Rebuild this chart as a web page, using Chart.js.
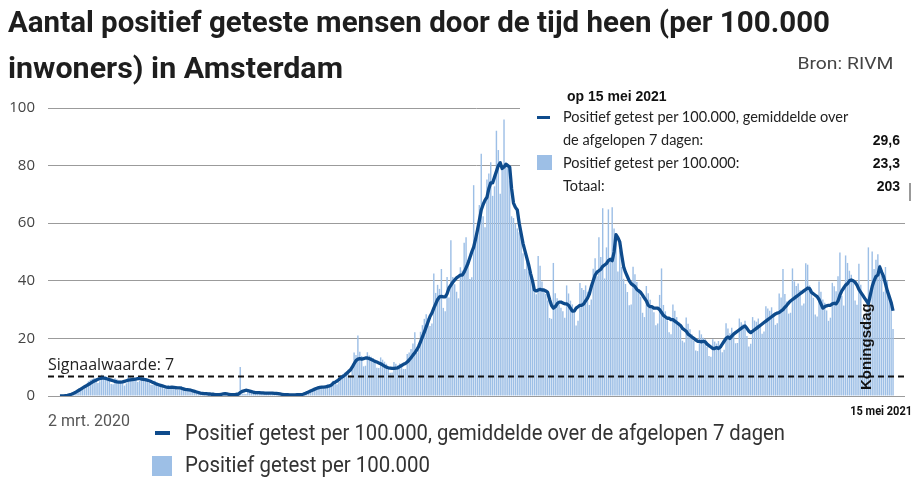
<!DOCTYPE html>
<html lang="nl">
<head>
<meta charset="utf-8">
<script src="https://cdn.jsdelivr.net/npm/chart.js@4.4.1/dist/chart.umd.min.js"></script>
<style>
  body { margin: 0; width: 914px; height: 479px; overflow: hidden; background: #fff; position: relative; }
  #c { position: absolute; left: 0; top: 0; }
  .t { position: absolute; white-space: nowrap; transform-origin: left center; }
  .r { transform-origin: right center; }
  .narrow { font-family: Roboto, "Liberation Sans", sans-serif; }
  .title { left: 8px; font-weight: bold; font-size: 29px; line-height: 30px; color: #1e1e1e; }
  .box { position: absolute; left: 520px; top: 84px; width: 394px; height: 116px; background: #fff; }
  .tip { font-family: Lato, sans-serif; font-size: 14.5px; line-height: 16px; color: #222; }
  .val { font-family: "Liberation Sans", sans-serif; font-weight: bold; font-size: 14px; line-height: 16px; color: #111; right: 14px; }
  .leg { font-size: 22px; line-height: 24px; color: #333; }
</style>
</head>
<body>
<canvas id="c" width="914" height="479"></canvas>

<div class="t narrow title" data-w="822" style="top:7px">Aantal positief geteste mensen door de tijd heen (per 100.000</div>
<div class="t narrow title" data-w="335" style="top:53px">inwoners) in Amsterdam</div>
<div class="t r narrow" data-w="96" style="right:21px;top:54px;font-size:17px;line-height:18px;color:#444">Bron: RIVM</div>

<div class="box"></div>
<div class="t" style="left:567px;top:88px;font-family:'Liberation Sans',sans-serif;font-weight:bold;font-size:14px;line-height:16px;color:#111">op 15 mei 2021</div>
<div class="t" style="left:537px;top:116px;width:13px;height:3px;background:#0e4b8c"></div>
<div class="t tip" style="left:563px;top:109px">Positief getest per 100.000, gemiddelde over</div>
<div class="t tip" style="left:563px;top:132px">de afgelopen 7 dagen:</div>
<div class="t val" style="top:132px">29,6</div>
<div class="t" style="left:537px;top:155px;width:15px;height:15px;background:#9dbfe6"></div>
<div class="t tip" style="left:563px;top:155px">Positief getest per 100.000:</div>
<div class="t val" style="top:155px">23,3</div>
<div class="t tip" style="left:563px;top:178px">Totaal:</div>
<div class="t val" style="top:178px">203</div>
<div class="t" style="left:909px;top:183px;width:2px;height:18px;background:#999"></div>

<div class="t narrow" data-w="82" style="left:48px;top:412px;font-size:16px;line-height:18px;color:#555">2 mrt. 2020</div>
<div class="t r narrow" data-w="62" style="right:2px;top:404px;font-size:12.5px;line-height:14px;font-weight:bold;color:#111">15 mei 2021</div>

<div class="t" style="left:155px;top:431px;width:15px;height:4px;background:#0e4b8c"></div>
<div class="t narrow leg" data-w="600" style="left:185px;top:421px">Positief getest per 100.000, gemiddelde over de afgelopen 7 dagen</div>
<div class="t" style="left:152px;top:456px;width:20px;height:20px;background:#9dbfe6"></div>
<div class="t narrow leg" data-w="245" style="left:185px;top:453px">Positief getest per 100.000</div>

<script>
// 2 maart 2020 t/m 15 mei 2021, één waarde per dag (weekrijen beginnen op maandag)
const signaal = 7;
const koningsdagIndex = 425;
const yTicks = [0, 20, 40, 60, 80, 100];

// positief getest per 100.000, gemiddelde over de afgelopen 7 dagen
const avg7 = [
  0,0,0,0.1,0.2,0.4,0.6,
  0.9,1.2,1.6,2,2.4,2.8,3.2,
  3.6,4,4.4,4.8,5.2,5.5,5.8,
  6,6.2,6.2,6.1,5.9,5.7,5.5,
  5.3,5.1,4.9,4.8,4.8,4.9,5.1,
  5.3,5.5,5.6,5.7,5.8,5.9,6,
  6,5.9,5.8,5.7,5.5,5.3,5,
  4.7,4.4,4.1,3.9,3.7,3.5,3.3,
  3.1,3,3,3.1,3,2.9,2.8,
  2.8,2.7,2.5,2.3,2.2,2.1,2,
  1.8,1.6,1.4,1.2,1,0.9,0.8,
  0.8,0.7,0.7,0.6,0.6,0.5,0.5,
  0.5,0.6,0.7,0.8,0.7,0.6,0.5,
  0.5,0.5,0.6,0.6,1.2,1.6,1.8,
  2,1.9,1.7,1.5,1.3,1.2,1.2,
  1.2,1.1,1.1,1,1,1,1,
  1,0.9,0.9,0.8,0.7,0.6,0.5,
  0.5,0.5,0.4,0.4,0.4,0.4,0.5,
  0.5,0.5,0.6,0.8,1.1,1.4,1.7,
  2,2.3,2.6,2.8,3,3.1,3.1,
  3.2,3.3,3.5,3.8,4.5,4.8,5.2,
  5.7,6.3,6.7,7.2,7.8,8.4,9,
  10,11.2,12.3,12.8,13,12.8,13,
  13.2,13.2,13,12.7,12.4,12,11.8,
  11.5,11.2,10.8,10.4,10,9.8,9.7,
  9.6,9.6,9.7,9.8,10.2,10.6,11,
  11.3,11.8,12.5,13.3,14.2,15,16,
  17.2,18.8,20.5,22.2,24,25.8,27.6,
  28.8,30.5,32,33.5,34.4,34.6,34.4,
  34.4,35.5,37.5,38.5,39.5,40.3,41,
  41.5,42,42,43,44.5,46,48,
  50,51.7,54.5,57.6,61,64.6,66.5,
  68,69,72,74,74,76,78,
  80,81,79,79.5,80.5,80,79.5,
  72,67,65.5,64.6,60,56.5,53,
  50.5,48,45.5,42.5,40,36.8,36.5,
  36.8,37,36.8,36.8,36.5,36,33.5,
  31.5,30.5,31,32,32.6,32.6,32.3,
  32,32,31.5,30.5,29.5,29.5,30.5,
  31,31.5,31.5,32,33,34,35.5,
  38,40,42,43,43.5,44,45,
  45.5,46,47,47.5,47,50,56,
  55,53.5,49,45,43,41.5,40,
  39,38.5,38,37,36.5,36,35,
  34,33,31.5,31,31,30.5,30.5,
  30.5,30,29,28,27.5,27,27,
  26.5,26.5,26,25.5,25,24.5,23.5,
  23,22.5,21.5,21,20.5,20,19.5,
  19,19,18.8,19,18.8,18,17.5,
  17,16.5,16.5,16.8,16.5,17,18,
  19,20,20.5,20,20.8,21.5,22,
  22.5,23,23.5,24,24.3,23.5,22.5,
  22,22.5,23,23.5,24,24.5,25,
  25.5,26,26.5,27,27.5,28,28.5,
  28.8,29,29.5,30,30.8,31.5,32.3,
  33,33.5,34,34.5,35,35.5,36,
  36.5,37,37.5,37.3,36,35.5,35,
  34.5,33.5,32,30.5,31,31.3,31.5,
  31.5,32,32.2,32,33,35,36.5,
  37.5,38.5,39,40,40.3,40,39.5,
  38.5,37,36,35,34,33,32,
  35,38,40,41.5,42,44.8,43,
  41.5,39,36.5,34.5,32.5,29.6
];

// positief getest per 100.000, per dag
const daily = [
  0,0,0,0,0.3,0.5,0.9,
  0.8,1.4,2.1,2.6,2.9,3.1,2.4,
  3.2,5.1,5.6,5.9,6.3,6.2,4.5,
  5.1,7.4,7,6.8,6.3,5.4,4.2,
  4.1,6.2,5.8,5.4,5.3,4.6,3.6,
  4.4,7.2,6.6,6.5,6.4,5.3,4.9,
  5.2,7.1,6.8,6.2,5.8,4.6,3.9,
  3.8,5.3,4.7,4.2,3.9,3.1,2.6,
  2.4,3.8,3.5,3.3,3.1,2.5,2.1,
  2.2,3.4,3,2.6,2.4,1.8,1.5,
  1.3,2.1,1.7,1.3,1.1,0.7,0.5,
  0.6,1.1,0.9,0.7,0.6,0.4,0.3,
  0.4,0.8,0.9,1,0.7,0.5,0.3,
  0.3,0.6,0.7,0.6,10.1,0.9,0.8,
  0.7,1.6,1.4,1.2,1.1,0.9,0.7,
  0.8,1.5,1.3,1.2,1.1,0.8,0.6,
  0.7,1.3,1.1,0.9,0.8,0.5,0.3,
  0.3,0.7,0.6,0.5,0.5,0.3,0.2,
  0.3,0.7,0.9,1.2,1.5,1.6,1.4,
  2.1,2.8,2.9,3.3,3.4,3.2,2.6,
  2.7,4.1,3.9,4.2,5.3,4.9,4.1,
  4.9,7.2,7.6,8.1,8.4,9.2,7.1,
  9.3,15.1,14.2,21,15.4,13.9,10.3,
  10.5,15.2,14.1,13.6,13.1,12,9.8,
  9.7,13.4,12.6,11.9,11.2,9.9,8.1,
  8.2,11.8,11.2,10.6,11.3,10.1,9.4,
  9.4,14.6,15.1,16.3,18.2,22.1,14.9,
  16.2,22.3,24.6,26.8,28.4,27.1,24.3,
  25.2,42.5,35.8,38.6,37.2,44.1,30.6,
  29.4,41.3,34.2,54.1,41.3,38.8,36.2,
  33.9,44.7,43.6,53.2,55.1,47.2,40.6,
  41.2,73.2,55.1,58.4,66.3,84.1,62.4,
  58.6,75.2,77.3,81.2,69.5,72.8,92.1,
  85.4,70.2,78.6,96,80.4,79.6,74.8,
  62.4,61.8,59.7,58.2,56.9,57.3,49.6,
  44.1,46.8,43.2,41.5,38.6,36.1,35.3,
  48.6,45.2,39.8,37.1,35.4,33.2,27.1,
  26.8,46.2,35.7,33.9,31.8,30.6,29.4,
  27.2,38.4,35.6,33.1,31.8,28.9,24.5,
  26.1,39.2,37.5,36.8,38.4,36.2,31.6,
  33.5,44.2,47.8,41.6,55.1,48.3,65.2,
  40.8,51.6,64.8,46.9,65.5,58.2,54.3,
  43.2,50.6,44.8,40.7,38.9,36.1,31.5,
  31.8,44.9,42.3,39.6,37.1,34.5,28.9,
  27.4,38.2,35.7,33.4,31.2,29.1,24.6,
  25.2,35.1,44.3,31.6,29.4,26.3,22.1,
  21.4,31.8,29.6,27.4,25.7,23.1,19.2,
  18.6,27.3,25.1,23.2,21.4,19.1,15.8,
  15.6,22.8,21.4,20.2,19.8,17.1,13.9,
  13.6,19.7,18.9,18.2,19.1,17.8,15.2,
  16.1,25.3,23.4,21.8,23.7,21.5,18.3,
  18.4,26.9,25.6,24.9,26.1,20.8,17.2,
  18.1,27.4,26.2,25.8,26.9,24.3,21.6,
  22.4,31.2,30.4,29.6,30.8,28.1,24.7,
  25.3,35.6,34.2,44.1,35.4,32.8,28.6,
  28.9,44.3,39.8,38.2,39.1,36.7,31.4,
  32.1,46.1,45.6,38.4,37.2,34.1,28.3,
  27.6,39.8,36.2,33.5,32.4,29.7,26.1,
  27.2,39.3,38.1,36.4,41.6,49.8,34.8,
  31.4,48.8,46.2,43.5,42.1,39.6,33.2,
  31.7,45.9,38.6,27.2,24.8,29.1,51.6,
  30.1,50.2,44.1,47.3,49.2,45.6,41.8,
  36.2,44.8,40.1,35.3,31.2,23.3
];

const lineColor = '#0e4b8c';
const barColor = '#9dbfe6';

// tekst op de gemeten breedte uit de bron brengen
function fitTexts() {
  document.querySelectorAll('[data-w]').forEach(function (el) {
    el.style.transform = 'none';
    const w = el.getBoundingClientRect().width;
    el.style.transform = 'scaleX(' + (el.dataset.w / w) + ')';
  });
}
fitTexts();
document.fonts.ready.then(fitTexts);

const extras = {
  id: 'extras',
  afterDatasetDraw(chart, args) {
    if (args.index !== 1) return;
    const { ctx, chartArea, scales: { x, y } } = chart;
    const yy = Math.round(y.getPixelForValue(signaal)) + 0.5;
    ctx.save();
    ctx.strokeStyle = '#111';
    ctx.lineWidth = 2;
    ctx.setLineDash([6, 4]);
    ctx.beginPath();
    ctx.moveTo(chartArea.left, yy);
    ctx.lineTo(chartArea.right, yy);
    ctx.stroke();
    ctx.setLineDash([]);
    ctx.fillStyle = '#222';
    ctx.font = '16px "Open Sans"';
    ctx.textBaseline = 'bottom';
    ctx.fillText('Signaalwaarde: ' + signaal, chartArea.left, yy - 3);

    // Koningsdag, verticaal
    ctx.translate(x.getPixelForValue(koningsdagIndex), chartArea.bottom - 6);
    ctx.rotate(-Math.PI / 2);
    ctx.fillStyle = '#111';
    ctx.font = 'bold 15px "Liberation Sans"';
    ctx.textBaseline = 'middle';
    ctx.textAlign = 'left';
    ctx.fillText('Koningsdag', 0, 0);
    ctx.restore();
  }
};

new Chart(document.getElementById('c'), {
  type: 'bar',
  data: {
    datasets: [{
      type: 'line',
      label: 'Positief getest per 100.000, gemiddelde over de afgelopen 7 dagen',
      data: avg7.map((v, i) => ({ x: i, y: v })),
      borderColor: lineColor,
      borderWidth: 3.3,
      pointRadius: 0,
      tension: 0,
      borderJoinStyle: 'round'
    }, {
      type: 'bar',
      label: 'Positief getest per 100.000',
      data: daily.map((v, i) => ({ x: i, y: v })),
      backgroundColor: barColor,
      barPercentage: 0.75,
      categoryPercentage: 1
    }]
  },
  options: {
    responsive: false,
    animation: false,
    layout: { padding: { top: 108, bottom: 83, right: 9, left: 0 } },
    plugins: { legend: { display: false }, tooltip: { enabled: false } },
    scales: {
      x: {
        type: 'linear',
        offset: false,
        min: -6.3,
        max: 445.3,
        display: false
      },
      y: {
        min: 0,
        max: 100,
        afterBuildTicks(s) { s.ticks = yTicks.map(v => ({ value: v })); },
        afterFit(s) { s.width = 48; },
        border: { display: false },
        grid: { color: '#9b9b9b', lineWidth: 1, drawTicks: false },
        ticks: { color: '#444', padding: 13, font: { family: 'Open Sans', size: 15 } }
      }
    }
  },
  plugins: [extras]
});
</script>
</body>
</html>
